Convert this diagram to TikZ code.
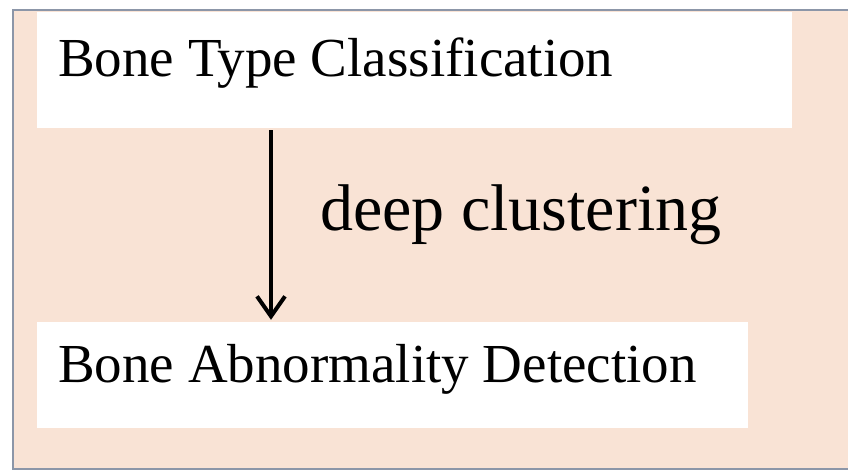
\documentclass[tikz,border=0pt]{standalone}
\usepackage{fontspec}
\setmainfont{Liberation Serif}
\usetikzlibrary{arrows.meta}
\definecolor{peach}{RGB}{249,227,213}
\definecolor{frame}{RGB}{140,150,168}
\tikzset{
  whitebox/.style={fill=white, draw=none, inner sep=0pt, anchor=center},
  boxtext/.style={anchor=base west, inner sep=0pt, font=\fontsize{55}{60}\selectfont},
  labeltext/.style={anchor=base west, inner sep=0pt, font=\fontsize{66}{72}\selectfont},
  flow/.style={line width=3.5pt, -{Straight Barb[length=20pt,width=28pt,line width=4pt]}}
}
\begin{document}
\begin{tikzpicture}[x=1pt,y=1pt]
\useasboundingbox (0,0) rectangle (848,472);
\fill[white] (0,0) rectangle (848,472);
\begin{scope}
\clip (0,0) rectangle (848,472);
\draw[frame, line width=2pt, fill=peach] (13,3) rectangle (860,462);
\end{scope}
\node[whitebox, minimum width=755pt, minimum height=116pt] (top) at (414.5,402) {};
\node[whitebox, minimum width=711pt, minimum height=106pt] (bot) at (392.5,97) {};
\node[boxtext] (toptext) at (58,395) {Bone Type Classification};
\node[boxtext] (bottext) at (58,90) {Bone Abnormality Detection};
\node[labeltext] (lbl) at (320,242) {deep clustering};
\coordinate (ax) at (271,0);
\draw[flow] ([yshift=-2pt]top.south -| ax) -- ([yshift=2pt]bot.north -| ax);
\end{tikzpicture}
\end{document}
